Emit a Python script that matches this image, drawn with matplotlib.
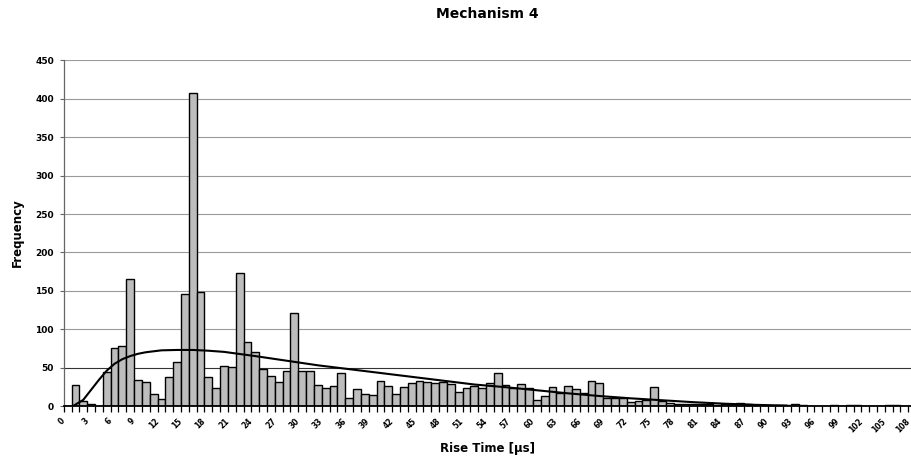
import matplotlib
matplotlib.use("Agg")
import matplotlib.pyplot as plt
import matplotlib.transforms as mtransforms
import numpy as np

# Histogram of rise times (1 µs bins)
rise_time = list(range(0, 109))
frequency = [
    0, 28, 6, 2, 0, 44, 76, 78, 166, 34,
    31, 16, 9, 38, 57, 146, 408, 149, 38, 24,
    52, 51, 173, 83, 70, 48, 39, 31, 45, 121,
    45, 45, 28, 24, 26, 43, 11, 22, 15, 14,
    33, 26, 15, 25, 30, 33, 31, 30, 31, 29,
    18, 24, 26, 24, 30, 43, 27, 23, 29, 24,
    8, 13, 25, 17, 26, 22, 17, 33, 30, 11,
    10, 10, 5, 7, 8, 25, 7, 4, 3, 3,
    3, 3, 2, 1, 2, 3, 4, 2, 1, 1,
    0, 1, 1, 2, 1, 0, 0, 0, 1, 0,
    1, 1, 0, 0, 0, 1, 1, 0, 0,
]

# Fitted distribution curve
curve_x = [0.7, 2, 3, 4, 5, 6, 7, 8, 9, 10, 12, 14, 16, 18, 20, 24, 28, 32, 36,
           40, 44, 48, 52, 56, 60, 64, 68, 72, 76, 80, 84, 88, 92]
curve_y = [0, 8, 21, 34, 46, 55, 61, 65, 68, 70, 72.5, 73, 73, 72, 70.5, 65, 59,
           53, 48, 43, 38, 33, 28, 24.5, 20.5, 16.5, 13, 10, 7.5, 5, 3, 1.5, 0.5]

x_tick_values = list(range(0, 109, 3))
y_tick_values = list(range(0, 451, 50))

W, H = 912, 465
fig = plt.figure(figsize=(W / 100, H / 100), dpi=100)
fig.patch.set_facecolor("white")

cat_w = 7.82
left_px, bottom_px, top_px = 63.7, 406.0, 60.5
ax = fig.add_axes([left_px / W, (H - bottom_px) / H,
                   109 * cat_w / W, (bottom_px - top_px) / H])

ax.bar(rise_time, frequency, width=1.0, color="#bdbdbd",
       edgecolor="black", linewidth=1.0, zorder=2)
ax.plot(curve_x, curve_y, color="black", linewidth=1.5, zorder=3,
        solid_capstyle="round")

ax.set_xlim(-0.5, 108.5)
ax.set_ylim(0, 450)

# horizontal gridlines
for v in y_tick_values[1:]:
    ax.axhline(v, color="#333333" if v == 50 else "#9a9a9a",
               linewidth=0.8, zorder=0)

for s in ("top", "right"):
    ax.spines[s].set_visible(False)
ax.spines["left"].set_color("#666666")
ax.spines["left"].set_linewidth(0.9)
ax.spines["bottom"].set_color("black")
ax.spines["bottom"].set_linewidth(1.3)
ax.spines["bottom"].set_zorder(4)

# y axis
ax.set_yticks(y_tick_values)
ax.set_yticklabels([str(v) for v in y_tick_values],
                   fontsize=6.5, fontweight="bold")
ax.tick_params(axis="y", length=3, width=0.8, color="#666666", pad=4)

# x axis: labels at category centres, tick marks between categories
ax.set_xticks(x_tick_values)
ax.set_xticklabels([str(v) for v in x_tick_values], fontsize=5.5,
                   fontweight="bold", rotation=45, ha="right", va="center",
                   rotation_mode="anchor")
ax.tick_params(axis="x", which="major", length=0, pad=10)
ax.set_xticks(np.arange(-0.5, 109, 1), minor=True)
ax.tick_params(axis="x", which="minor", length=4, width=0.9,
               color="black", direction="out")
shift = mtransforms.ScaledTranslation(-4 / 100, 0, fig.dpi_scale_trans)
for lbl in ax.get_xticklabels():
    lbl.set_transform(lbl.get_transform() + shift)

fig.text(487 / W, 1 - 14 / H, "Mechanism 4", ha="center", va="center",
         fontsize=10, fontweight="bold")
fig.text(488 / W, 1 - 448 / H, "Rise Time [μs]", ha="center", va="center",
         fontsize=8.5, fontweight="bold")
fig.text(17 / W, 1 - 233 / H, "Frequency", ha="center", va="center",
         rotation=90, fontsize=8.5, fontweight="bold")

fig.savefig("out.png", dpi=100, facecolor="white")
